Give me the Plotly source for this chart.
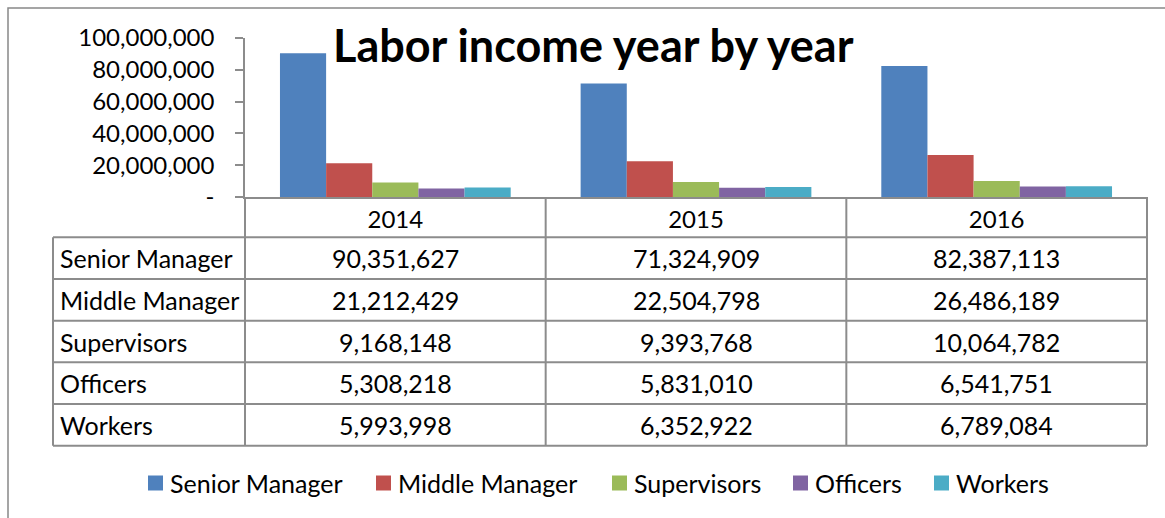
import plotly.graph_objects as go

# ---- data -------------------------------------------------------------
years = ["2014", "2015", "2016"]
series_names = ["Senior Manager", "Middle Manager", "Supervisors", "Officers", "Workers"]
senior_manager = [90351627, 71324909, 82387113]
middle_manager = [21212429, 22504798, 26486189]
supervisors = [9168148, 9393768, 10064782]
officers = [5308218, 5831010, 6541751]
workers = [5993998, 6352922, 6789084]
series_values = [senior_manager, middle_manager, supervisors, officers, workers]

y_tick_values = [0, 20000000, 40000000, 60000000, 80000000, 100000000]
y_tick_labels = ["-", "20,000,000", "40,000,000", "60,000,000", "80,000,000", "100,000,000"]

# ---- styling ------------------------------------------------------------
W, H = 1165, 518
FONT = "Lato"
colors = ["#4F81BD", "#C0504D", "#9BBB59", "#8064A2", "#4BACC6"]
GRID = "#8c8c8c"

# pixel layout helpers (page coordinates -> paper fractions)
def px_x(p):
    return p / W

def px_y(p):
    return 1 - p / H

plot_left, plot_right = 245, 1147
plot_top, plot_bottom = 38, 197
table_left = 53
row_top = 237.3
row_h = 41.68
legend_y = 483
legend_item_left = [148, 376, 612, 793, 934]
legend_box = 15

fig = go.Figure()
for name, vals, col in zip(series_names, series_values, colors):
    fig.add_trace(go.Bar(
        x=years, y=vals, name=name,
        marker=dict(color=col, line=dict(width=0)),
        hoverinfo="x+y+name",
    ))

fig.update_layout(
    width=W, height=H,
    margin=dict(l=0, r=0, t=0, b=0, pad=0, autoexpand=False),
    paper_bgcolor="white", plot_bgcolor="white",
    barmode="group", bargap=0.2326, bargroupgap=0,
    font=dict(family=FONT, size=24, color="black"),
    showlegend=False,
    xaxis=dict(
        domain=[px_x(plot_left), px_x(plot_right)],
        type="category", range=[-0.5, 2.5],
        showline=True, linecolor=GRID, linewidth=1.5,
        ticks="", showgrid=False, zeroline=False, automargin=False,
        tickfont=dict(family=FONT, size=24, color="black"),
        ticklabelstandoff=0,
    ),
    yaxis=dict(
        domain=[px_y(plot_bottom), px_y(plot_top)],
        range=[0, 100000000],
        tickvals=y_tick_values, ticktext=y_tick_labels,
        ticks="outside", ticklen=8, tickcolor=GRID, tickwidth=1.5,
        showline=True, linecolor=GRID, linewidth=1.5,
        showgrid=False, zeroline=False, automargin=False,
        tickfont=dict(family=FONT, size=24, color="black"),
        ticklabelstandoff=16,
    ),
)

# title
fig.add_annotation(
    text="<b>Labor income year by year</b>", xref="paper", yref="paper",
    x=px_x(593), y=px_y(45), xanchor="center", yanchor="middle",
    showarrow=False, font=dict(family=FONT, size=45, color="black"),
)

shapes = []
# outer chart border
shapes.append(dict(type="rect", xref="paper", yref="paper",
                   x0=px_x(8), x1=px_x(1175), y0=px_y(530), y1=px_y(8),
                   line=dict(color="#888888", width=1.5), fillcolor="rgba(0,0,0,0)", layer="below"))

# data table grid: column dividers at category boundaries
n_rows = len(series_names)
table_bottom = row_top + row_h * n_rows
for k in range(len(years) + 1):
    xd = k / len(years)
    shapes.append(dict(type="line", xref="x domain", yref="paper",
                       x0=xd, x1=xd, y0=px_y(plot_bottom), y1=px_y(table_bottom),
                       line=dict(color=GRID, width=2)))
# left edge of row-label column
shapes.append(dict(type="line", xref="paper", yref="paper",
                   x0=px_x(table_left), x1=px_x(table_left), y0=px_y(row_top), y1=px_y(table_bottom),
                   line=dict(color=GRID, width=2)))
# row separators
for r in range(n_rows + 1):
    yy = px_y(row_top + r * row_h)
    shapes.append(dict(type="line", xref="paper", yref="paper",
                       x0=px_x(table_left), x1=px_x(plot_right), y0=yy, y1=yy,
                       line=dict(color=GRID, width=2)))

# legend keys
for left, col in zip(legend_item_left, colors):
    shapes.append(dict(type="rect", xref="paper", yref="paper",
                       x0=px_x(left), x1=px_x(left + legend_box),
                       y0=px_y(legend_y + legend_box / 2), y1=px_y(legend_y - legend_box / 2),
                       line=dict(width=0), fillcolor=col))
fig.update_layout(shapes=shapes)

# legend labels
for left, name in zip(legend_item_left, series_names):
    fig.add_annotation(text=name, xref="paper", yref="paper",
                       x=px_x(left + legend_box + 5), y=px_y(legend_y),
                       xanchor="left", yanchor="middle", showarrow=False,
                       font=dict(family=FONT, size=25, color="black"))

# data table text
for r, (name, vals) in enumerate(zip(series_names, series_values)):
    yc = px_y(row_top + (r + 0.5) * row_h)
    fig.add_annotation(text=name, xref="paper", yref="paper", x=px_x(table_left + 5), y=yc,
                       xanchor="left", yanchor="middle", showarrow=False,
                       font=dict(family=FONT, size=25, color="black"))
    for i, v in enumerate(vals):
        fig.add_annotation(text=f"{v:,}", xref="x", yref="paper", x=i, y=yc,
                           xanchor="center", yanchor="middle", showarrow=False,
                           font=dict(family=FONT, size=25, color="black"))

fig.write_html("out.html")
